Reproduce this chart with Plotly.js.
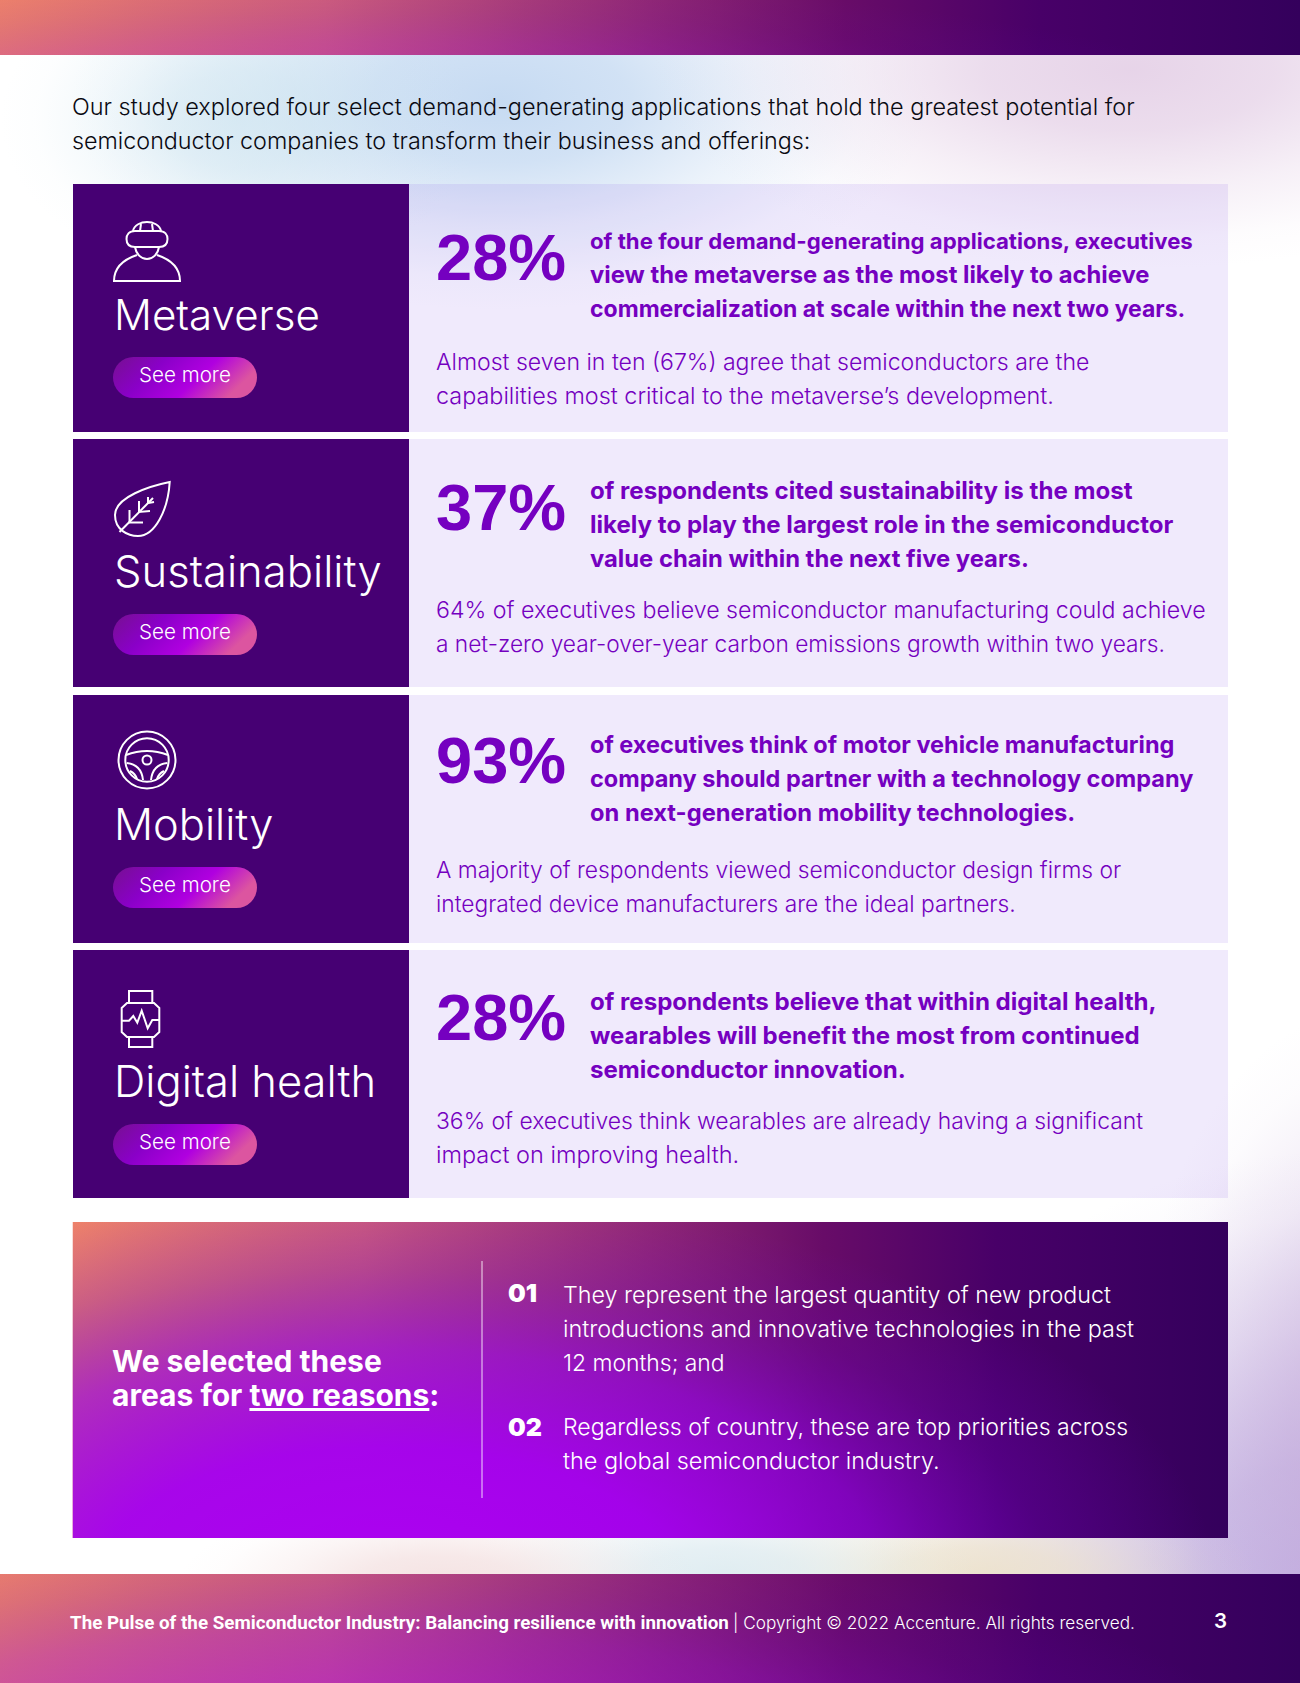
<!DOCTYPE html><html><head><meta charset="utf-8"><script src="https://cdn.plot.ly/plotly-3.0.1.min.js"></script></head><body style="margin:0;background:#fff"><div id="g" style="width:1300px;height:1683px"></div><script>
// ---------- content ----------
const categories=["Metaverse","Sustainability","Mobility","Digital health"];
const headlineValues=[28,37,93,28];
const headlineLines=[
 ["of the four demand-generating applications, executives","view the metaverse as the most likely to achieve","commercialization at scale within the next two years."],
 ["of respondents cited sustainability is the most","likely to play the largest role in the semiconductor","value chain within the next five years."],
 ["of executives think of motor vehicle manufacturing","company should partner with a technology company","on next-generation mobility technologies."],
 ["of respondents believe that within digital health,","wearables will benefit the most from continued","semiconductor innovation."]];
const detailLines=[
 ["Almost seven in ten (67%) agree that semiconductors are the","capabilities most critical to the metaverse’s development."],
 ["64% of executives believe semiconductor manufacturing could achieve","a net-zero year-over-year carbon emissions growth within two years."],
 ["A majority of respondents viewed semiconductor design firms or","integrated device manufacturers are the ideal partners."],
 ["36% of executives think wearables are already having a significant","impact on improving health."]];
const introLines=["Our study explored four select demand-generating applications that hold the greatest potential for","semiconductor companies to transform their business and offerings:"];
const calloutTitle=["We selected these","areas for <u>two reasons</u>:"];
const reasonNumbers=["01","02"];
const reasonLines=[["They represent the largest quantity of new product","introductions and innovative technologies in the past","12 months; and"],["Regardless of country, these are top priorities across","the global semiconductor industry."]];
const buttonLabel="See more";
const footerBold="The Pulse of the Semiconductor Industry: Balancing resilience with innovation";
const footerLight="| Copyright © 2022 Accenture. All rights reserved.";
const pageNumber="3";

// ---------- layout constants ----------
const W=1300,H=1683;
const rowTop=[184,439,695,950],rowH=248;
const pillTop=[357,614,867,1124];
const titleBase=[329.5,587,839,1096];
const titleSize=[42.1,43.6,43.4,43.5];
const bigBase=[280,530,783.5,1040.5];
const headBase=[[249,283.5,317],[499,533,567],[753,787,821],[1010,1044.5,1078.5]];
const detailBase=[[370,404],[618,652],[877,911],[1129,1163]];
const headSize=[[22.2,23.8,23.0],[24.1,24.1,23.8],[23.5,23.5,23.7],[24.1,24.0,24.1]];
const detailSize=[[23.05,23.4],[23.2,22.7],[22.8,22.75],[22.9,23.5]];
const reasonSize=[[23.27,23.4,22.9],[23.1,23.45]];
const PURPLE="#7500c0",DARK="#460073";
const DESC={Inter:.242,Roboto:.244};

const ann=[],shapes=[],images=[];
function T(text,x,base,size,o={}){
 const fam=o.family||"Inter";
 ann.push({text,x,y:base+(DESC[fam]||.24)*size,xref:'x',yref:'y',xanchor:o.anchor||'left',yanchor:'bottom',align:'left',showarrow:false,borderpad:0,borderwidth:0,
  font:{family:fam,size,color:o.color||'#fff',weight:o.weight||300}});
}
function svgUri(w,h,body){return 'data:image/svg+xml,'+encodeURIComponent(`<svg xmlns="http://www.w3.org/2000/svg" width="${w}" height="${h}" viewBox="0 0 ${w} ${h}" preserveAspectRatio="none">${body}</svg>`);}
function img(src,x,y,w,h,layer){images.push({source:src,x,y,sizex:w,sizey:h,xref:'x',yref:'y',xanchor:'left',yanchor:'top',sizing:'stretch',layer:layer||'below'});}
function blob(id,cx,cy,rx,ry,c,op){return {def:`<radialGradient id="${id}" gradientUnits="userSpaceOnUse" cx="0" cy="0" r="1" gradientTransform="translate(${cx},${cy}) scale(${rx},${ry})"><stop offset="0" stop-color="${c}" stop-opacity="${op}"/><stop offset=".3" stop-color="${c}" stop-opacity="${op*.8}"/><stop offset=".6" stop-color="${c}" stop-opacity="${op*.35}"/><stop offset=".85" stop-color="${c}" stop-opacity="${op*.07}"/><stop offset="1" stop-color="${c}" stop-opacity="0"/></radialGradient>`,rect:`<rect width="${W}" height="${H}" fill="url(#${id})"/>`};}
const blobs=[
 blob('a',500,100,430,210,'#bcd4f0',.85),
 blob('b',240,120,240,160,'#c8e2ee',.6),
 blob('c',1130,70,480,200,'#e4cfe6',.9),
 blob('d',1340,1590,480,440,'#bdaae0',.95),
 blob('h',1360,1430,230,420,'#c4a8d8',.6),
 blob('e',980,1575,280,90,'#ebdfc4',.8),
 blob('f',720,1575,260,90,'#d8e8ee',.8),
 blob('g',440,1580,260,80,'#f2dcdc',.8)];
images.push({source:svgUri(W,H,`<defs>${blobs.map(b=>b.def).join('')}</defs><rect width="${W}" height="${H}" fill="#fff"/>${blobs.map(b=>b.rect).join('')}`),x:0,y:1,sizex:1,sizey:1,xref:'paper',yref:'paper',xanchor:'left',yanchor:'top',sizing:'stretch',layer:'below'});

function banner(w,h,strength,cy,ry){
 return svgUri(w,h,`<defs><linearGradient id="l" x1="0" y1="0" x2="1" y2="0">
 <stop offset="0" stop-color="#ef8369"/><stop offset=".25" stop-color="#d0607a"/><stop offset=".5" stop-color="#902874"/><stop offset=".65" stop-color="#680c68"/><stop offset=".8" stop-color="#480068"/><stop offset="1" stop-color="#34005c"/></linearGradient>
 <radialGradient id="r" gradientUnits="userSpaceOnUse" cx="0" cy="0" r="1" gradientTransform="translate(${w*.27},${h*cy}) scale(${w*.72},${h*ry})">
 <stop offset="0" stop-color="#ad00f2" stop-opacity="${strength}"/><stop offset=".35" stop-color="#a400f0" stop-opacity="${strength*.95}"/><stop offset=".6" stop-color="#8f00e8" stop-opacity="${strength*.65}"/><stop offset=".8" stop-color="#7000c8" stop-opacity="${strength*.28}"/><stop offset="1" stop-color="#7000c8" stop-opacity="0"/></radialGradient></defs>
 <rect width="${w}" height="${h}" fill="url(#l)"/><rect width="${w}" height="${h}" fill="url(#r)"/>`);
}
img(banner(W,55,.3,2.4,2.8),0,0,W,55);
img(banner(W,109,.5,1.9,2.3),0,1574,W,109);
img(banner(1155,316,1,1.15,1.25),72.5,1222,1155.5,316);
const pill=svgUri(144,41,`<defs><linearGradient id="p" x1="0" y1="0" x2="1" y2=".3"><stop offset="0" stop-color="#761090"/><stop offset=".35" stop-color="#8a00c8"/><stop offset=".68" stop-color="#b000e0"/><stop offset="1" stop-color="#dc55a0"/></linearGradient></defs><rect width="144" height="41" rx="20.5" fill="url(#p)"/>`);

// ---------- rows ----------
const ICON={type:'path',xref:'x',yref:'y',layer:'above',line:{color:'#fff',width:2},fillcolor:'rgba(0,0,0,0)'};
categories.forEach((c,i)=>{
 shapes.push({type:'rect',xref:'x',yref:'y',x0:73,x1:409,y0:rowTop[i],y1:rowTop[i]+rowH,fillcolor:DARK,line:{width:0},layer:'below'});
 shapes.push({type:'rect',xref:'x',yref:'y',x0:409,x1:1228,y0:rowTop[i],y1:rowTop[i]+rowH,fillcolor:'rgba(120,60,225,0.11)',line:{width:0},layer:'below'});
 img(pill,113,pillTop[i],144,41,'above');
 T(c,113.5,titleBase[i],titleSize[i],{});
 T(buttonLabel,139,pillTop[i]+25,20.6,{});
 headlineLines[i].forEach((l,j)=>T(l,590,headBase[i][j],headSize[i][j],{color:PURPLE,weight:700}));
 detailLines[i].forEach((l,j)=>T(l,436,detailBase[i][j],detailSize[i][j],{color:PURPLE}));
});
// icons
const P=(path)=>shapes.push(Object.assign({},ICON,{path}));
const C=(cx,cy,r)=>shapes.push({type:'circle',xref:'x',yref:'y',layer:'above',x0:cx-r,x1:cx+r,y0:cy-r,y1:cy+r,line:{color:'#fff',width:2}});
// VR headset person
P('M 135 231 L 159 231 C 165 231 167.5 235 167.5 239 C 167.5 244 165 247 159 247 L 135 247 C 129 247 126.5 244 126.5 239 C 126.5 235 129 231 135 231 Z');
P('M 133 231 C 134 225 141 222 147 222 C 153 222 160 225 161 231');
P('M 140 231 L 141 224 M 153 231 L 152 224');
P('M 135 247 C 136 254 141 259 147 259 C 153 259 158 254 159 247');
P('M 137 255 C 122 260 114 268 114 281 L 180 281 C 180 268 172 260 157 255');
// leaf
P('M 169.7 482 C 150 486 115 497 115 515 C 115 530 128 536 138 536 C 155 536 168 510 169.7 482 Z');
P('M 119.5 532 L 153 498');
P('M 129.5 510 L 129.5 522.5 L 143 522.5 M 139 501 L 139 512 L 150 511 M 148 497 L 148 503 L 154 502');
// steering wheel
C(147,760,28.5);C(147,760,21.7);C(147,760,4.5);
P('M 126 755 Q 147 747 168 755');
P('M 126.7 763 C 137 764 142 771 143 780 M 167.3 763 C 157 764 152 771 151 780');
P('M 130 771 C 134 773 136 776 137 779 M 164 771 C 160 773 158 776 157 779');
// watch
P('M 127 1003 L 154 1003 L 159.3 1008 L 159.3 1032 L 154 1037 L 127 1037 L 121.7 1032 L 121.7 1008 Z');
P('M 129 1002 L 129 991 L 152.3 991 L 152.3 1002 M 129 1038 L 129 1047 L 152.3 1047 L 152.3 1038');
P('M 121.7 1020.7 L 129 1020.7 L 133.3 1016 L 137.3 1022.7 L 141.7 1010.7 L 147.7 1028.3 L 152.3 1020 L 159.3 1020');

// ---------- other text ----------
introLines.forEach((l,j)=>T(l,72,115+34*j,[23.45,23.3][j],{color:'#0a0a12'}));
calloutTitle.forEach((l,j)=>T(l,112,1371.5+34*j,30,{weight:700}));
shapes.push({type:'line',xref:'x',yref:'y',x0:482,x1:482,y0:1261,y1:1498,line:{color:'rgba(255,255,255,.85)',width:1},layer:'above'});
const numBase=[1302,1436],reasonBase=[[1303,1337,1371],[1435,1469]];
reasonNumbers.forEach((n,i)=>{T(n,508,numBase[i],25,{weight:900});
 reasonLines[i].forEach((l,j)=>T(l,563,reasonBase[i][j],reasonSize[i][j],{}));});
T(footerBold,70,1629,18.8,{family:'Roboto',weight:700});
T(footerLight,733,1629,17.2,{family:'Inter',weight:300});
T(pageNumber,1214,1628,20.5,{weight:600});

// ---------- trace: headline percentages ----------
const big={type:'scatter',mode:'text',x:headlineValues.map(()=>436),y:bigBase.map(b=>b-16.5),text:headlineValues.map(v=>v+'%'),textposition:'middle right',cliponaxis:false,hoverinfo:'skip',showlegend:false,
 textfont:{family:'Liberation Sans',size:65,color:PURPLE,weight:700}};

Plotly.newPlot('g',[big],{width:W,height:H,margin:{l:0,r:0,t:0,b:0,pad:0},paper_bgcolor:'#fff',plot_bgcolor:'rgba(0,0,0,0)',showlegend:false,
 xaxis:{range:[0,W],visible:false,fixedrange:true},yaxis:{range:[H,0],visible:false,fixedrange:true},shapes,images,annotations:ann},{displayModeBar:false,staticPlot:true});
</script></body></html>
